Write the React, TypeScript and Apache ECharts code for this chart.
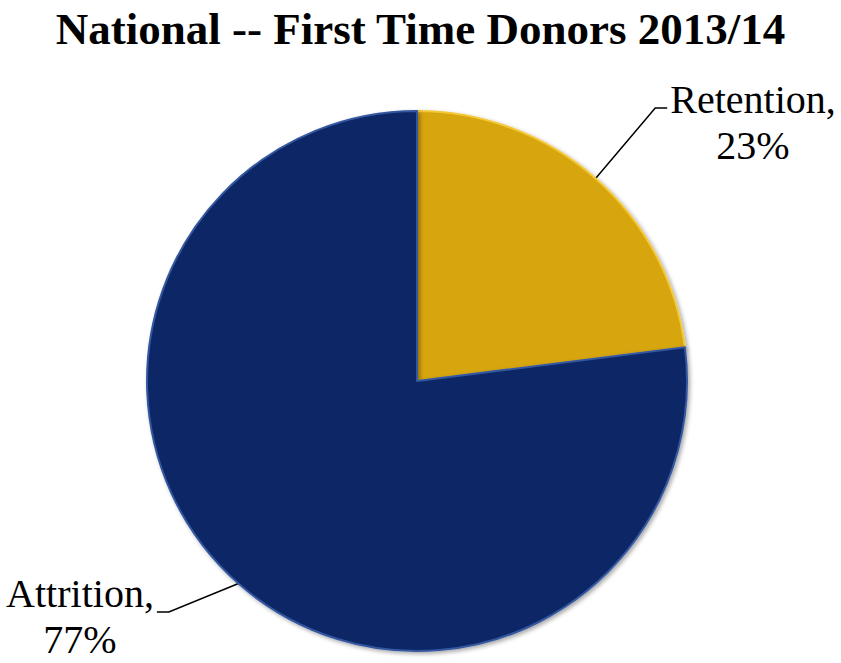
import React, { useEffect, useRef } from "react";
import * as echarts from "echarts";

const titleText = "National -- First Time Donors 2013/14";
const categories = ["Retention", "Attrition"];
const values = [23, 77];
const colors = ["#D7A507", "#0B2866"];
const rimColors = ["#F3C83A", "#3557A0"];

const SERIF = "Liberation Serif";

export default function App() {
  const ref = useRef<HTMLDivElement>(null);
  useEffect(() => {
    document.body.style.margin = "0";
    const chart = echarts.init(ref.current!, null, { renderer: "svg" });
    const data = categories.map((name, i) => ({
      name,
      value: values[i],
      itemStyle: { color: colors[i], borderColor: rimColors[i] },
    }));
    // label centers and leader-line offsets
    const labelPos = [
      { x: 753, y: 122, side: -1, lineDy: -14 },
      { x: 80, y: 616, side: 1, lineDy: -4 },
    ];
    const richStyle = {
      fontFamily: SERIF,
      fontSize: 40,
      lineHeight: 46,
      color: "#000000",
      align: "center",
    };
    chart.setOption({
      animation: false,
      backgroundColor: "#ffffff",
      textStyle: { fontFamily: SERIF },
      title: {
        text: titleText,
        left: "center",
        top: 1,
        textStyle: {
          fontFamily: SERIF,
          fontSize: 45,
          fontWeight: "bold",
          color: "#000000",
        },
      },
      series: [
        {
          type: "pie",
          center: [417, 381],
          radius: 270,
          startAngle: 90,
          clockwise: true,
          data,
          itemStyle: {
            borderWidth: 2,
            shadowColor: "rgba(0,0,0,0.35)",
            shadowBlur: 4,
            shadowOffsetX: 2,
            shadowOffsetY: 2,
          },
          label: {
            show: true,
            position: "outside",
            formatter: "{t|{b},}\n{t|{c}%}",
            fontFamily: SERIF,
            fontSize: 40,
            lineHeight: 46,
            color: "#000000",
            align: "center",
            rich: { t: richStyle },
          },
          labelLine: {
            show: true,
            length: 60,
            length2: 10,
            lineStyle: { color: "#000000", width: 1.5 },
          },
          labelLayout: (params: any) => {
            const lp = labelPos[params.dataIndex];
            const w = params.labelRect.width;
            const anchor = params.labelLinePoints
              ? params.labelLinePoints[0]
              : [0, 0];
            const endX = lp.x + lp.side * (w / 2 + 3);
            const endY = lp.y + lp.lineDy;
            const elbowX = endX + lp.side * 12;
            return {
              x: lp.x,
              y: lp.y,
              align: "center",
              verticalAlign: "middle",
              labelLinePoints: [anchor, [elbowX, endY], [endX, endY]],
            };
          },
        },
      ],
    });
    return () => chart.dispose();
  }, []);
  return (
    <div
      ref={ref}
      style={{ position: "absolute", left: 0, top: 0, width: 841, height: 663 }}
    />
  );
}
